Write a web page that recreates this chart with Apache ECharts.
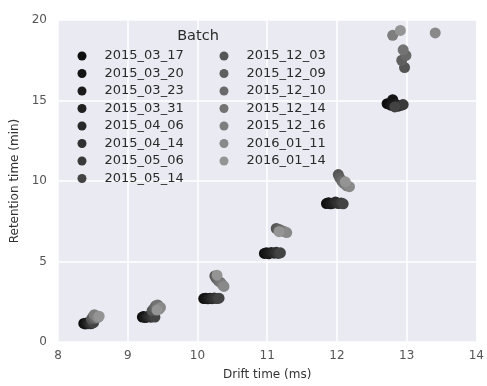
<!DOCTYPE html>
<html>
<head>
<meta charset="utf-8">
<script src="https://cdn.jsdelivr.net/npm/echarts@6/dist/echarts.min.js"></script>
<style>
  html, body { margin: 0; padding: 0; background: #ffffff; }
  #chart { width: 487px; height: 386px; }
</style>
</head>
<body>
<div id="chart"></div>
<script>
// Batch names (legend order) and their grey shades
const batches = [
  '2015_03_17', '2015_03_20', '2015_03_23', '2015_03_31', '2015_04_06',
  '2015_04_14', '2015_05_06', '2015_05_14', '2015_12_03', '2015_12_09',
  '2015_12_10', '2015_12_14', '2015_12_16', '2016_01_11', '2016_01_14'
];
const batchColors = [
  '#0f0f0f', '#141414', '#1a1a1a', '#212121', '#292929',
  '#313131', '#3a3a3a', '#434343', '#555555', '#5f5f5f',
  '#696969', '#737373', '#7e7e7e', '#898989', '#949494'
];

// One compound per pair of arrays; one value per batch (same order as batches)
const compoundA_drift = [8.37, 8.39, 8.41, 8.43, 8.45, 8.47, 8.49, 8.51, 8.48, 8.50, 8.53, 8.55, 8.52, 8.57, 8.59];
const compoundA_rt    = [1.15, 1.12, 1.18, 1.14, 1.16, 1.13, 1.17, 1.20, 1.42, 1.55, 1.48, 1.62, 1.70, 1.52, 1.60];

const compoundB_drift = [9.21, 9.23, 9.25, 9.28, 9.30, 9.33, 9.36, 9.39, 9.35, 9.38, 9.40, 9.43, 9.45, 9.47, 9.42];
const compoundB_rt    = [1.55, 1.58, 1.52, 1.56, 1.60, 1.54, 1.57, 1.55, 1.95, 2.10, 2.25, 2.30, 2.05, 2.15, 1.98];

const compoundC_drift = [10.09, 10.12, 10.15, 10.18, 10.21, 10.24, 10.28, 10.31, 10.25, 10.27, 10.30, 10.33, 10.36, 10.38, 10.28];
const compoundC_rt    = [2.70, 2.72, 2.68, 2.71, 2.69, 2.73, 2.70, 2.72, 4.10, 3.95, 3.80, 3.70, 3.55, 3.45, 4.15];

const compoundD_drift = [10.96, 10.99, 11.02, 11.06, 11.10, 11.13, 11.16, 11.19, 11.13, 11.16, 11.19, 11.22, 11.25, 11.28, 11.17];
const compoundD_rt    = [5.50, 5.55, 5.48, 5.56, 5.52, 5.58, 5.50, 5.54, 7.05, 7.00, 6.95, 6.90, 6.85, 6.80, 6.85];

const compoundE_drift = [11.85, 11.88, 11.91, 11.95, 11.98, 12.02, 12.06, 12.09, 12.02, 12.04, 12.07, 12.10, 12.14, 12.18, 12.12];
const compoundE_rt    = [8.60, 8.65, 8.58, 8.62, 8.70, 8.60, 8.64, 8.58, 10.40, 10.20, 10.00, 9.85, 9.70, 9.65, 9.95];

const compoundF_drift = [12.72, 12.80, 12.78, 12.85, 12.88, 12.92, 12.95, 12.83, 12.97, 12.93, 12.99, 12.95, 12.80, 13.41, 12.91];
const compoundF_rt    = [14.80, 15.05, 14.70, 14.75, 14.65, 14.70, 14.75, 14.60, 17.05, 17.50, 17.80, 18.15, 19.05, 19.20, 19.35];

const driftArrays = [compoundA_drift, compoundB_drift, compoundC_drift, compoundD_drift, compoundE_drift, compoundF_drift];
const rtArrays    = [compoundA_rt, compoundB_rt, compoundC_rt, compoundD_rt, compoundE_rt, compoundF_rt];

// Axis ticks
const xTicks = [8, 9, 10, 11, 12, 13, 14];
const yTicks = [0, 5, 10, 15, 20];

const series = batches.map((name, b) => ({
  name: name,
  type: 'scatter',
  symbol: 'circle',
  symbolSize: 11,
  itemStyle: { color: batchColors[b], opacity: 1 },
  data: driftArrays.map((d, c) => [d[b], rtArrays[c][b]]),
  z: 2 + b
}));

const legendText = {
  fontFamily: 'DejaVu Sans',
  fontSize: 13,
  color: '#2a2a2a',
  padding: [0, 0, 0, 13],
  lineHeight: 15
};

const chart = echarts.init(document.getElementById('chart'), null, { renderer: 'canvas' });
chart.setOption({
  animation: false,
  backgroundColor: '#ffffff',
  title: {
    text: 'Batch',
    left: 198,
    top: 29,
    textAlign: 'center',
    padding: 0,
    textStyle: { fontFamily: 'DejaVu Sans', fontSize: 14.5, fontWeight: 'normal', color: '#2a2a2a' }
  },
  legend: [
    {
      data: batches.slice(0, 8),
      orient: 'vertical',
      left: 77.5, top: 48.5,
      padding: 0,
      itemWidth: 9, itemHeight: 9, itemGap: 2.5,
      icon: 'circle',
      textStyle: legendText,
      selectedMode: false
    },
    {
      data: batches.slice(8),
      orient: 'vertical',
      left: 219.5, top: 48.5,
      padding: 0,
      itemWidth: 9, itemHeight: 9, itemGap: 2.5,
      icon: 'circle',
      textStyle: legendText,
      selectedMode: false
    }
  ],
  grid: {
    left: 58, right: 4, top: 20, bottom: 39,
    show: true,
    backgroundColor: '#eaeaf2',
    borderWidth: 0,
    containLabel: false
  },
  xAxis: {
    type: 'value',
    min: xTicks[0], max: xTicks[xTicks.length - 1], interval: 1,
    name: 'Drift time (ms)',
    nameLocation: 'middle',
    nameGap: 27,
    nameTextStyle: { fontFamily: 'DejaVu Sans', fontSize: 12, color: '#333333' },
    axisLine: { show: false },
    axisTick: { show: false },
    axisLabel: { fontFamily: 'DejaVu Sans', fontSize: 12, color: '#555555', margin: 8 },
    splitLine: { show: true, lineStyle: { color: '#ffffff', width: 1.5 } }
  },
  yAxis: {
    type: 'value',
    min: yTicks[0], max: yTicks[yTicks.length - 1], interval: 5,
    name: 'Retention time (min)',
    nameLocation: 'middle',
    nameGap: 37,
    nameTextStyle: { fontFamily: 'DejaVu Sans', fontSize: 12, color: '#333333' },
    axisLine: { show: false },
    axisTick: { show: false },
    axisLabel: { fontFamily: 'DejaVu Sans', fontSize: 12, color: '#555555', margin: 11 },
    splitLine: { show: true, lineStyle: { color: '#ffffff', width: 1.5 } }
  },
  series: series
});
</script>
</body>
</html>
